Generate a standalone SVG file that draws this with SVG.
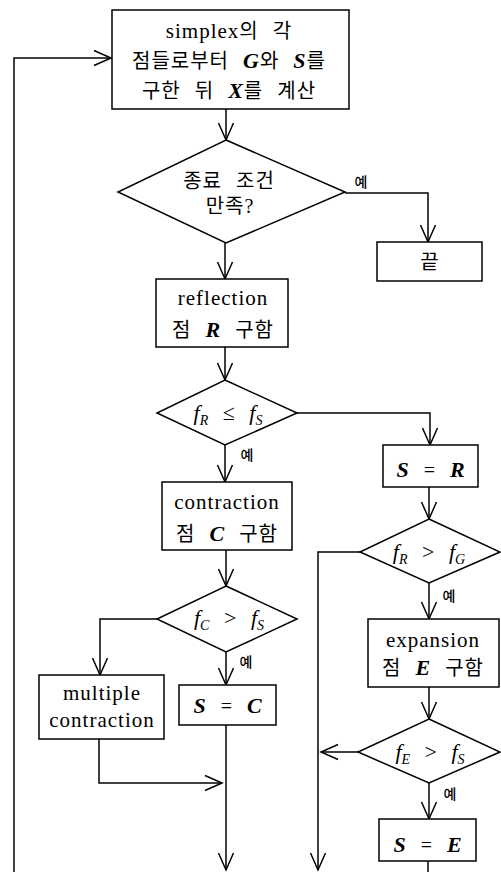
<svg xmlns="http://www.w3.org/2000/svg" width="501" height="872" viewBox="0 0 501 872">
<style>
.box{fill:#fff;stroke:#000;stroke-width:1.5}
.ln{fill:none;stroke:#000;stroke-width:1.5}
.t{font-family:"Liberation Serif","Noto Sans CJK KR",serif;font-size:20px;letter-spacing:1px;word-spacing:8px;text-anchor:middle;fill:#000}
.lat{font-size:21px}
.v{font-family:"Liberation Serif",serif;font-weight:bold;font-style:italic;font-size:22px}
.m{font-family:"Liberation Serif",serif;font-style:italic;font-size:22px;word-spacing:9px;text-anchor:middle;fill:#000}
.sb{font-size:14px}
.op{font-style:normal}
.y{font-family:"Noto Sans CJK KR",sans-serif;font-size:14px;font-weight:500;text-anchor:middle;fill:#000}
</style>
<defs>
<marker id="ah" viewBox="-20 -10 22 20" refX="0" refY="0" markerWidth="22" markerHeight="20" markerUnits="userSpaceOnUse" orient="auto" overflow="visible">
<path d="M-17,-7.5 L0,0 L-17,7.5" fill="none" stroke="#000" stroke-width="1.5"/>
</marker>
</defs>
<g id="connectors">
<path class="ln" d="M14,872 V58 H111" marker-end="url(#ah)"/>
<path class="ln" d="M226,109 V140" marker-end="url(#ah)"/>
<path class="ln" d="M345,193 H428 V242" marker-end="url(#ah)"/>
<path class="ln" d="M225,243 V279" marker-end="url(#ah)"/>
<path class="ln" d="M225,347 V380" marker-end="url(#ah)"/>
<path class="ln" d="M297,413 H430 V445" marker-end="url(#ah)"/>
<path class="ln" d="M225,445 V482" marker-end="url(#ah)"/>
<path class="ln" d="M226,550 V586" marker-end="url(#ah)"/>
<path class="ln" d="M157,619 H100 V675" marker-end="url(#ah)"/>
<path class="ln" d="M226,652 V685" marker-end="url(#ah)"/>
<path class="ln" d="M226,725 V870" marker-end="url(#ah)"/>
<path class="ln" d="M99,739 V783 H222" marker-end="url(#ah)"/>
<path class="ln" d="M429,487 V519" marker-end="url(#ah)"/>
<path class="ln" d="M360,552 H318 V870" marker-end="url(#ah)"/>
<path class="ln" d="M429,583 V619" marker-end="url(#ah)"/>
<path class="ln" d="M429,687 V719" marker-end="url(#ah)"/>
<path class="ln" d="M358,752 H321" marker-end="url(#ah)"/>
<path class="ln" d="M429,783 V819" marker-end="url(#ah)"/>
<path class="ln" d="M428,861 V872"/>
<text class="y" x="361" y="187">예</text>
<text class="y" x="247" y="460">예</text>
<text class="y" x="246" y="667">예</text>
<text class="y" x="449" y="601">예</text>
<text class="y" x="450" y="799">예</text>
</g>
<g id="start">
<rect class="box" x="112" y="10" width="237" height="99"/>
<text class="t" x="229" y="38"><tspan class="lat">simplex</tspan>의 각</text>
<text class="t" x="229" y="68">점들로부터 <tspan class="v">G</tspan>와 <tspan class="v">S</tspan>를</text>
<text class="t" x="229" y="98">구한 뒤 <tspan class="v">X</tspan>를 계산</text>
</g>
<g id="stop-check">
<polygon class="box" points="226,140 345,192 226,243 118,192"/>
<text class="t" x="229" y="188">종료 조건</text>
<text class="t" x="230" y="213">만족?</text>
</g>
<g id="end">
<rect class="box" x="377" y="242" width="105" height="39"/>
<text class="t" x="430" y="269">끝</text>
</g>
<g id="reflection">
<rect class="box" x="156" y="279" width="132" height="68"/>
<text class="t" x="223" y="305"><tspan class="lat">reflection</tspan></text>
<text class="t" x="223" y="337">점 <tspan class="v">R</tspan> 구함</text>
</g>
<g id="cmp-rs">
<polygon class="box" points="225,380 297,413 225,445 157,413"/>
<text class="m" x="228" y="420">f<tspan class="sb" dy="5">R</tspan><tspan class="op" dy="-5"> ≤ </tspan>f<tspan class="sb" dy="5">S</tspan></text>
</g>
<g id="s-eq-r">
<rect class="box" x="383" y="445" width="95" height="42"/>
<text class="t" x="431" y="477"><tspan class="v">S</tspan> = <tspan class="v">R</tspan></text>
</g>
<g id="contraction">
<rect class="box" x="162" y="482" width="130" height="68"/>
<text class="t" x="227" y="509"><tspan class="lat">contraction</tspan></text>
<text class="t" x="227" y="541">점 <tspan class="v">C</tspan> 구함</text>
</g>
<g id="cmp-cs">
<polygon class="box" points="226,586 297,619 226,652 157,619"/>
<text class="m" x="229" y="625">f<tspan class="sb" dy="5">C</tspan><tspan class="op" dy="-5"> &gt; </tspan>f<tspan class="sb" dy="5">S</tspan></text>
</g>
<g id="multiple">
<rect class="box" x="39" y="675" width="125" height="64"/>
<text class="t" x="102" y="700"><tspan class="lat">multiple</tspan></text>
<text class="t" x="102" y="727"><tspan class="lat">contraction</tspan></text>
</g>
<g id="s-eq-c">
<rect class="box" x="179" y="685" width="97" height="40"/>
<text class="t" x="228" y="713"><tspan class="v">S</tspan> = <tspan class="v">C</tspan></text>
</g>
<g id="cmp-rg">
<polygon class="box" points="429,519 500,552 429,583 360,552"/>
<text class="m" x="429" y="559">f<tspan class="sb" dy="5">R</tspan><tspan class="op" dy="-5"> &gt; </tspan>f<tspan class="sb" dy="5">G</tspan></text>
</g>
<g id="expansion">
<rect class="box" x="368" y="619" width="131" height="68"/>
<text class="t" x="433" y="647"><tspan class="lat">expansion</tspan></text>
<text class="t" x="433" y="675">점 <tspan class="v">E</tspan> 구함</text>
</g>
<g id="cmp-es">
<polygon class="box" points="429,719 500,752 429,783 358,752"/>
<text class="m" x="430" y="759">f<tspan class="sb" dy="5">E</tspan><tspan class="op" dy="-5"> &gt; </tspan>f<tspan class="sb" dy="5">S</tspan></text>
</g>
<g id="s-eq-e">
<rect class="box" x="379" y="819" width="97" height="42"/>
<text class="t" x="428" y="852"><tspan class="v">S</tspan> = <tspan class="v">E</tspan></text>
</g>
</svg>
